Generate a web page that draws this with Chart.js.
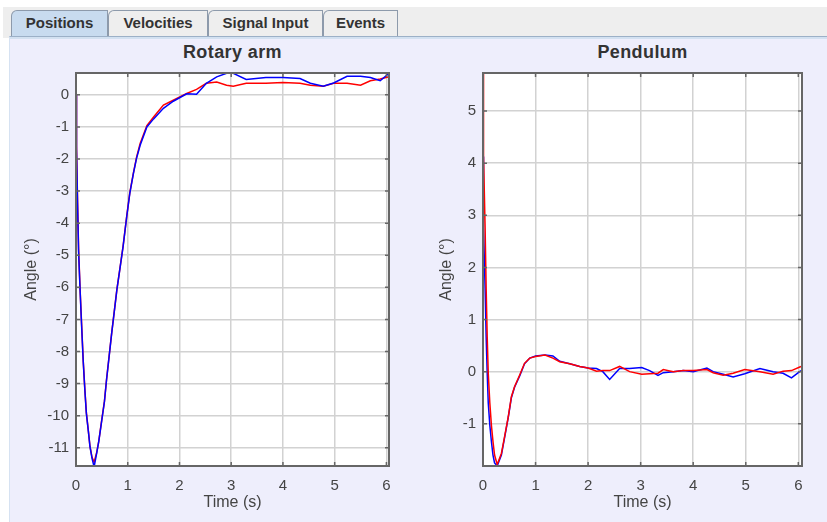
<!DOCTYPE html>
<html lang="en">
<head>
    <meta charset="UTF-8">
    <title>Positions</title>
    <script src="https://cdn.jsdelivr.net/npm/chart.js"></script>
    <style>
        body {
            margin: 0;
            background: #ffffff;
            font-family: "Liberation Sans", Arial, sans-serif;
        }
        #page {
            position: relative;
            width: 827px;
            height: 522px;
            overflow: hidden;
        }
        #strip {
            position: absolute;
            left: 3px; top: 7px; width: 824px; height: 31px;
            background: #eeeeee;
        }
        .tab {
            position: absolute;
            top: 10px; height: 26px;
            box-sizing: border-box;
            border: 1px solid #8d9aab;
            border-bottom: none;
            border-top-left-radius: 6px;
            background: #eeeeee;
            color: #333333;
            font-weight: bold;
            font-size: 15px;
            line-height: 24px;
            text-align: center;
        }
        .tab.sel {
            background: #c8dbef;
        }
        #panel {
            position: absolute;
            left: 9px; top: 36px; width: 818px; height: 486px;
            box-sizing: border-box;
            background: #eeeefc;
            border-top: 1px solid #9cb0c7;
            border-left: 1px solid #d6e2f2;
            box-shadow: inset 0 2px 0 #d3e1f1;
        }
        .title {
            position: absolute;
            top: 42px;
            text-align: center;
            font-weight: bold;
            font-size: 18px;
            letter-spacing: 0.4px;
            color: #333333;
        }
        canvas {
            position: absolute;
            top: 57px;
        }
    </style>
</head>
<body>
<div id="page">
    <div id="strip"></div>
    <div id="panel"></div>
    <div class="tab sel" style="left:11px;width:97px">Positions</div>
    <div class="tab" style="left:108px;width:100px">Velocities</div>
    <div class="tab" style="left:208px;width:115px">Signal Input</div>
    <div class="tab" style="left:323px;width:75px">Events</div>

    <div class="title" style="left:76px;width:313px">Rotary arm</div>
    <div class="title" style="left:483px;width:319px">Pendulum</div>

    <canvas id="armChart" width="415" height="465" style="left:0px"></canvas>
    <canvas id="pendChart" width="412" height="465" style="left:415px"></canvas>
</div>

<script>
    // rotary arm angle (deg) vs time (s)
    const armTime = [0, 0.01, 0.03, 0.05, 0.08, 0.11, 0.14, 0.17, 0.20, 0.24, 0.27, 0.31, 0.35, 0.40, 0.44,
        0.49, 0.55, 0.59, 0.64, 0.69, 0.74, 0.79, 0.85, 0.91, 0.98, 1.04, 1.11, 1.17, 1.24, 1.37, 1.50,
        1.69, 1.88, 2.14, 2.33, 2.52, 2.72, 2.91, 3.04, 3.29, 3.67, 4.00, 4.33, 4.53, 4.78, 4.98, 5.24,
        5.50, 5.69, 5.88, 6.05];
    const armMeasured = [0, -1.7, -3.4, -4.9, -6.13, -7.26, -8.32, -9.17, -9.93, -10.5, -10.97, -11.33, -11.6,
        -11.17, -10.8, -10.24, -9.56, -8.89, -8.16, -7.43, -6.76, -6.08, -5.41, -4.73, -3.8, -3.07, -2.45,
        -1.98, -1.57, -1.0, -0.75, -0.42, -0.2, 0.03, 0.02, 0.36, 0.56, 0.67, 0.67, 0.48, 0.54, 0.54, 0.51,
        0.36, 0.27, 0.37, 0.58, 0.58, 0.54, 0.44, 0.67];
    const armModel = [0, -1.6, -3.3, -4.8, -6.1, -7.2, -8.3, -9.15, -9.9, -10.5, -10.95, -11.3, -11.45,
        -11.15, -10.8, -10.22, -9.55, -8.88, -8.15, -7.42, -6.75, -6.07, -5.4, -4.72, -3.79, -3.05, -2.43,
        -1.95, -1.52, -0.96, -0.69, -0.32, -0.17, 0.04, 0.17, 0.36, 0.4, 0.3, 0.27, 0.36, 0.36, 0.38, 0.36,
        0.3, 0.27, 0.36, 0.36, 0.3, 0.44, 0.49, 0.56];

    // pendulum angle (deg) vs time (s)
    const pendTime = [0, 0.01, 0.04, 0.06, 0.08, 0.10, 0.13, 0.16, 0.19, 0.22, 0.27, 0.35, 0.41, 0.48, 0.54,
        0.60, 0.70, 0.79, 0.89, 1.00, 1.18, 1.33, 1.46, 1.65, 1.84, 2.00, 2.16, 2.28, 2.41, 2.60, 2.79,
        3.02, 3.17, 3.33, 3.43, 3.62, 3.81, 4.00, 4.26, 4.38, 4.57, 4.76, 4.98, 5.27, 5.52, 5.71, 5.87, 6.05];
    const pendMeasured = [4.13, 2.76, 1.6, 0.67, -0.03, -0.6, -1.03, -1.34, -1.6, -1.75, -1.81, -1.6, -1.27,
        -0.88, -0.5, -0.3, -0.08, 0.15, 0.26, 0.3, 0.32, 0.3, 0.2, 0.15, 0.1, 0.07, 0.06, 0.0, -0.15, 0.06,
        0.06, 0.08, 0.02, -0.07, -0.02, 0.0, 0.02, 0.0, 0.07, 0.0, -0.05, -0.1, -0.04, 0.06, 0.0, -0.03,
        -0.12, 0.02];
    const pendModel = [5.8, 4.13, 2.76, 1.6, 0.67, -0.03, -0.6, -1.03, -1.34, -1.6, -1.78, -1.57, -1.25,
        -0.87, -0.48, -0.29, -0.06, 0.16, 0.26, 0.29, 0.32, 0.26, 0.19, 0.15, 0.1, 0.07, 0.01, 0.02, 0.02,
        0.1, 0.0, -0.05, -0.04, -0.03, 0.04, 0.0, 0.02, 0.02, 0.04, -0.02, -0.07, -0.03, 0.04, 0.0, -0.05,
        0.01, 0.02, 0.1];

    const FRAME = '#666666';
    const TEXT = '#444444';

    function toPoints(xs, ys) {
        return xs.map((x, i) => ({ x: x, y: ys[i] }));
    }

    // white plot area, dark frame and short inward tick marks on all four sides
    const framePlugin = {
        id: 'frame',
        beforeDraw(chart) {
            const a = chart.chartArea;
            const ctx = chart.ctx;
            ctx.save();
            ctx.fillStyle = '#ffffff';
            ctx.fillRect(a.left, a.top, a.right - a.left, a.bottom - a.top);
            ctx.restore();
        },
        afterDatasetsDraw(chart) {
            const a = chart.chartArea;
            const ctx = chart.ctx;
            const len = 4;
            ctx.save();
            ctx.strokeStyle = FRAME;
            ctx.lineWidth = 1.5;
            ctx.beginPath();
            chart.scales.x.ticks.forEach(t => {
                const px = chart.scales.x.getPixelForValue(t.value);
                ctx.moveTo(px, a.bottom); ctx.lineTo(px, a.bottom - len);
                ctx.moveTo(px, a.top); ctx.lineTo(px, a.top + len);
            });
            chart.scales.y.ticks.forEach(t => {
                const py = chart.scales.y.getPixelForValue(t.value);
                ctx.moveTo(a.left, py); ctx.lineTo(a.left + len, py);
                ctx.moveTo(a.right, py); ctx.lineTo(a.right - len, py);
            });
            ctx.stroke();
            ctx.lineWidth = 2;
            ctx.strokeRect(a.left, a.top, a.right - a.left, a.bottom - a.top);
            ctx.restore();
        }
    };

    function makeChart(id, time, first, second, yMin, yMax, xMax, yWidth, padRight) {
        const ctx = document.getElementById(id).getContext('2d');
        return new Chart(ctx, {
            type: 'line',
            data: {
                datasets: [first, second].map(s => ({
                    data: toPoints(time, s.values),
                    borderColor: s.color,
                    borderWidth: 1.5,
                    pointRadius: 0,
                    tension: 0,
                    fill: false
                }))
            },
            options: {
                responsive: false,
                animation: false,
                devicePixelRatio: 1,
                layout: { padding: { top: 9, right: padRight, left: 0, bottom: 0 } },
                plugins: { legend: { display: false }, tooltip: { enabled: false } },
                scales: {
                    x: {
                        type: 'linear',
                        min: 0,
                        max: xMax,
                        grid: { color: '#d2d2d2', lineWidth: 1.5, drawTicks: false },
                        border: { display: false },
                        ticks: {
                            stepSize: 1,
                            includeBounds: false,
                            maxRotation: 0,
                            padding: 11,
                            color: TEXT,
                            font: { family: 'Liberation Sans', size: 15 }
                        },
                        title: {
                            display: true,
                            text: 'Time (s)',
                            color: TEXT,
                            padding: { top: 0, bottom: 10 },
                            font: { family: 'Liberation Sans', size: 16 }
                        },
                        afterFit(scale) { scale.height = 56; }
                    },
                    y: {
                        min: yMin,
                        max: yMax,
                        grid: { color: '#d2d2d2', lineWidth: 1.5, drawTicks: false },
                        border: { display: false },
                        ticks: {
                            stepSize: 1,
                            includeBounds: false,
                            padding: 7,
                            color: TEXT,
                            font: { family: 'Liberation Sans', size: 15 }
                        },
                        title: {
                            display: true,
                            text: 'Angle (°)',
                            color: TEXT,
                            padding: { top: 22, bottom: 0 },
                            font: { family: 'Liberation Sans', size: 16 }
                        },
                        afterFit(scale) { scale.width = yWidth; }
                    }
                }
            },
            plugins: [framePlugin]
        });
    }

    // blue on top in the arm plot, red on top in the pendulum plot
    makeChart('armChart', armTime,
        { values: armMeasured, color: '#0000ff' },
        { values: armModel, color: '#ff0000' },
        -11.57, 0.68, 6.05, 76, 26);

    makeChart('pendChart', pendTime,
        { values: pendModel, color: '#ff0000' },
        { values: pendMeasured, color: '#0000ff' },
        -1.81, 5.73, 6.07, 68, 25);
</script>
</body>
</html>
